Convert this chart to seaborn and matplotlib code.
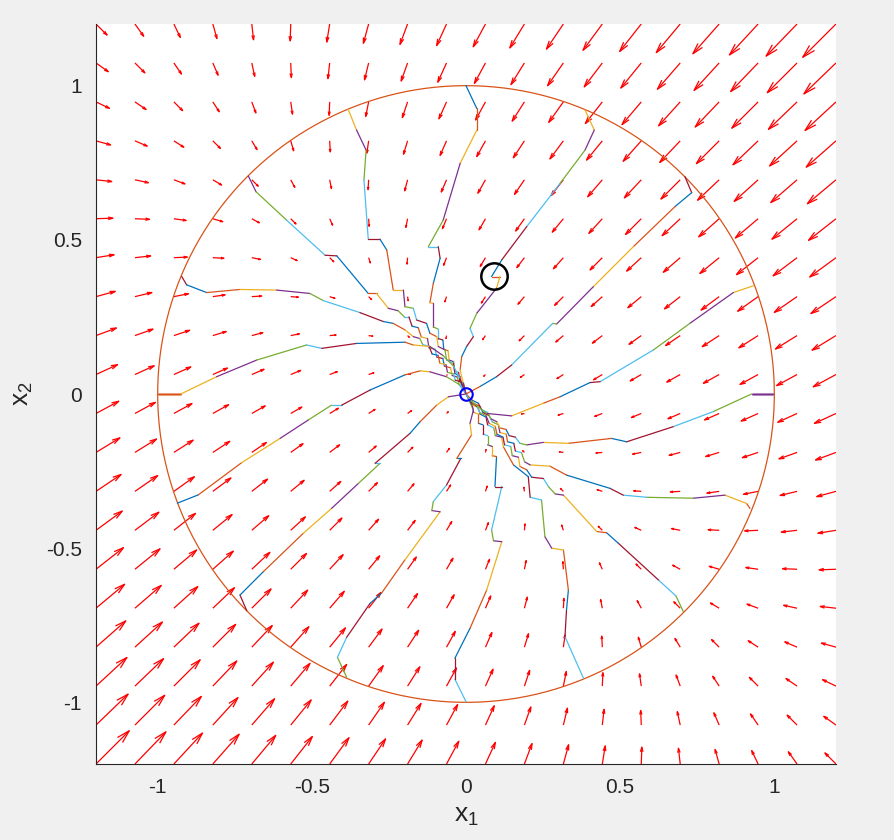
import numpy as np
import pandas as pd
import matplotlib
matplotlib.use('Agg')
import matplotlib.pyplot as plt
import seaborn as sns
from matplotlib.collections import LineCollection

sns.set_style('white')
plt.rcParams['font.family'] = ['Liberation Sans', 'DejaVu Sans']
plt.rcParams['mathtext.fontset'] = 'custom'
plt.rcParams['mathtext.rm'] = 'Liberation Sans'
plt.rcParams['mathtext.it'] = 'Liberation Sans'
plt.rcParams['mathtext.default'] = 'regular'
plt.rcParams['axes.unicode_minus'] = False

A_sys = [[-2.0, -1.0],
         [-1.0, -2.0]]
grid_n = 20
lim = 1.2
circle_r = 1.0

# trajectoires
T1 = [(0, 1.0), (0.035, 0.926), (0.035, 0.856), (-0.019, 0.748), (-0.074, 0.564), (-0.122, 0.478),
      (-0.09, 0.478), (-0.084, 0.44), (-0.106, 0.359), (-0.117, 0.296), (-0.106, 0.294), (-0.106, 0.218),
      (-0.09, 0.21), (-0.09, 0.18), (-0.075, 0.175), (-0.072, 0.145), (-0.058, 0.14), (-0.055, 0.11),
      (-0.04, 0.105), (-0.037, 0.075), (-0.024, 0.07), (-0.02, 0.04), (-0.008, 0.035), (0, 0)]
T2 = [(-0.382, 0.923), (-0.355, 0.856), (-0.324, 0.791), (-0.331, 0.694), (-0.317, 0.502), (-0.279, 0.502),
      (-0.257, 0.467), (-0.236, 0.337), (-0.203, 0.337), (-0.198, 0.283), (-0.171, 0.278), (-0.16, 0.24),
      (-0.128, 0.229), (-0.117, 0.197), (-0.095, 0.186), (-0.09, 0.154), (-0.068, 0.143), (-0.063, 0.11),
      (-0.041, 0.1), (-0.036, 0.067), (-0.019, 0.056), (-0.014, 0.029), (0, 0)]
T3 = [(-0.706, 0.707), (-0.681, 0.656), (-0.582, 0.564), (-0.457, 0.45), (-0.419, 0.448), (-0.317, 0.326),
      (-0.29, 0.326), (-0.252, 0.278), (-0.22, 0.27), (-0.2, 0.25), (-0.185, 0.25), (-0.175, 0.22),
      (-0.155, 0.215), (-0.145, 0.185), (-0.125, 0.18), (-0.12, 0.15), (-0.1, 0.145), (-0.095, 0.12),
      (-0.075, 0.115), (-0.07, 0.09), (-0.05, 0.085), (-0.045, 0.06), (-0.028, 0.055), (-0.022, 0.03), (0, 0)]
T4 = [(-0.922, 0.381), (-0.906, 0.354), (-0.841, 0.329), (-0.733, 0.339), (-0.614, 0.337), (-0.506, 0.326),
      (-0.463, 0.303), (-0.344, 0.264), (-0.268, 0.235), (-0.236, 0.229), (-0.198, 0.208), (-0.171, 0.186),
      (-0.15, 0.18), (-0.14, 0.16), (-0.12, 0.155), (-0.11, 0.13), (-0.09, 0.125), (-0.085, 0.1),
      (-0.065, 0.095), (-0.06, 0.07), (-0.04, 0.065), (-0.035, 0.045), (-0.018, 0.04), (0, 0)]
T5 = [(-0.998, 0.0), (-0.925, 0.0), (-0.809, 0.056), (-0.679, 0.11), (-0.517, 0.159), (-0.468, 0.148),
      (-0.355, 0.164), (-0.198, 0.168), (-0.171, 0.159), (-0.117, 0.154), (-0.075, 0.125), (-0.04, 0.09),
      (-0.02, 0.05), (0, 0)]
T6 = [(-0.936, -0.354), (-0.868, -0.327), (-0.728, -0.223), (-0.603, -0.144), (-0.511, -0.084),
      (-0.436, -0.036), (-0.403, -0.036), (-0.311, 0.013), (-0.198, 0.062), (-0.149, 0.075),
      (-0.117, 0.072), (-0.063, 0.056), (-0.019, 0.029), (0, 0)]
T7 = [(-0.711, -0.703), (-0.733, -0.652), (-0.657, -0.576), (-0.528, -0.452), (-0.436, -0.371),
      (-0.349, -0.29), (-0.279, -0.225), (-0.295, -0.225), (-0.182, -0.128), (-0.149, -0.09),
      (-0.095, -0.036), (-0.057, -0.009), (0, 0)]
T8 = [(-0.387, -0.919), (-0.417, -0.854), (-0.387, -0.789), (-0.311, -0.679), (-0.274, -0.646),
      (-0.198, -0.538), (-0.084, -0.382), (-0.111, -0.378), (-0.106, -0.349), (-0.063, -0.295),
      (-0.017, -0.209), (-0.03, -0.209), (0.018, -0.133), (0.013, -0.095), (0.024, -0.052), (0, 0)]
T9 = [(0, -0.998), (-0.036, -0.925), (-0.036, -0.857), (0.013, -0.76), (0.067, -0.636), (0.116, -0.479),
      (0.089, -0.476), (0.083, -0.441), (0.116, -0.3), (0.094, -0.3), (0.099, -0.203), (0.085, -0.2),
      (0.085, -0.17), (0.07, -0.165), (0.07, -0.135), (0.055, -0.13), (0.055, -0.1), (0.04, -0.095),
      (0.04, -0.065), (0.025, -0.06), (0.02, -0.035), (0, 0)]
T10 = [(0.381, -0.922), (0.321, -0.787), (0.326, -0.7), (0.332, -0.636), (0.316, -0.506), (0.278, -0.5),
       (0.256, -0.463), (0.245, -0.344), (0.208, -0.335), (0.202, -0.268), (0.154, -0.23), (0.121, -0.171),
       (0.115, -0.14), (0.095, -0.135), (0.09, -0.11), (0.07, -0.1), (0.065, -0.075), (0.045, -0.065),
       (0.04, -0.045), (0.02, -0.035), (0, 0)]
T11 = [(0.705, -0.706), (0.681, -0.655), (0.624, -0.603), (0.494, -0.484), (0.456, -0.45), (0.424, -0.446),
       (0.316, -0.328), (0.289, -0.324), (0.267, -0.3), (0.251, -0.274), (0.213, -0.27), (0.197, -0.246),
       (0.175, -0.235), (0.17, -0.205), (0.15, -0.2), (0.145, -0.17), (0.125, -0.165), (0.12, -0.14),
       (0.1, -0.13), (0.095, -0.105), (0.075, -0.095), (0.065, -0.07), (0.045, -0.06), (0.035, -0.04),
       (0.015, -0.025), (0, 0)]
T12 = [(0.921, -0.371), (0.91, -0.355), (0.84, -0.328), (0.737, -0.338), (0.586, -0.335), (0.51, -0.328),
       (0.467, -0.306), (0.326, -0.263), (0.272, -0.234), (0.208, -0.23), (0.19, -0.22), (0.18, -0.19),
       (0.16, -0.185), (0.155, -0.16), (0.135, -0.155), (0.13, -0.13), (0.11, -0.125), (0.105, -0.1),
       (0.085, -0.09), (0.075, -0.07), (0.055, -0.06), (0.045, -0.04), (0.025, -0.03), (0, 0)]
T13 = [(0.997, 0.0), (0.926, 0.0), (0.802, -0.057), (0.672, -0.106), (0.521, -0.155), (0.472, -0.144),
       (0.332, -0.16), (0.251, -0.157), (0.197, -0.165), (0.175, -0.16), (0.16, -0.14), (0.14, -0.135),
       (0.13, -0.115), (0.11, -0.11), (0.1, -0.09), (0.08, -0.08), (0.07, -0.06), (0.05, -0.05),
       (0.04, -0.03), (0.02, -0.02), (0, 0)]
T14 = [(0.932, 0.351), (0.867, 0.329), (0.726, 0.229), (0.608, 0.143), (0.435, 0.04), (0.402, 0.037),
       (0.305, -0.009), (0.251, -0.03), (0.148, -0.071), (0.067, -0.063), (0.013, -0.02), (0, 0)]
T15 = [(0.71, 0.705), (0.732, 0.653), (0.678, 0.608), (0.543, 0.478), (0.413, 0.348), (0.294, 0.227),
       (0.281, 0.229), (0.148, 0.094), (0.099, 0.056), (0.045, 0.024), (0, 0)]
T16 = [(0.386, 0.921), (0.416, 0.856), (0.386, 0.791), (0.305, 0.683), (0.197, 0.543), (0.116, 0.435),
       (0.083, 0.381), (0.11, 0.381), (0.099, 0.343), (0.035, 0.262), (0.013, 0.213), (0.024, 0.186),
       (0.002, 0.154), (-0.014, 0.121), (-0.019, 0.078), (-0.009, 0.035), (0, 0)]

trajectories = [T1, T2, T3, T4, T5, T6, T7, T8, T9, T10, T11, T12, T13, T14, T15, T16]
thick_start = [4, 12]   # T5 et T13 commencent par un trait plus epais

origin = (0.0, 0.0)
current_state = (0.091, 0.383)

matlab_colors = ['#0072BD', '#D95319', '#EDB120', '#7E2F8E', '#77AC30', '#4DBEEE', '#A2142F']

# figure
fig = plt.figure(figsize=(8.94, 8.40), dpi=100, facecolor='#f0f0f0')
ax = fig.add_axes([96 / 894, 76 / 840, 740 / 894, 740 / 840])
ax.set_facecolor('white')

# quiver facon MATLAB (autoscale 0.9, tete ouverte)
g = np.linspace(-lim, lim, grid_n)
X, Y = np.meshgrid(g, g)
A = np.array(A_sys)
U = A[0, 0] * X + A[0, 1] * Y
V = A[1, 0] * X + A[1, 1] * Y
dl = np.sqrt((2 * lim / grid_n) ** 2 * 2)
maxlen = np.max(np.sqrt(U ** 2 + V ** 2)) / dl
U = U * 0.9 / maxlen
V = V * 0.9 / maxlen
alpha, beta = 0.28, 0.27
segs = []
for x0, y0, u, v in zip(X.ravel(), Y.ravel(), U.ravel(), V.ravel()):
    tx, ty = x0 + u, y0 + v
    segs.append([(x0, y0), (tx, ty)])
    segs.append([(tx - alpha * (u + beta * v), ty - alpha * (v - beta * u)), (tx, ty),
                 (tx - alpha * (u - beta * v), ty - alpha * (v + beta * u))])
ax.add_collection(LineCollection(segs, colors='red', linewidths=0.9, zorder=1))

# cercle
th = np.linspace(0, 2 * np.pi, 400)
circ = pd.DataFrame({'x': circle_r * np.cos(th), 'y': circle_r * np.sin(th)})
sns.lineplot(data=circ, x='x', y='y', sort=False, estimator=None, color='#D95319',
             linewidth=0.9, ax=ax, zorder=2)

# trajectoires : chaque segment a sa propre couleur (ordre MATLAB)
rows = []
pal = {}
k = 0
for i, tr in enumerate(trajectories):
    for j in range(len(tr) - 1):
        sid = f's{k}'
        pal[sid] = matlab_colors[k % len(matlab_colors)]
        if j == 0 and i in thick_start:
            ax.plot([tr[0][0], tr[1][0]], [tr[0][1], tr[1][1]], color=pal[sid],
                    lw=2.2, alpha=0.5, zorder=3, solid_capstyle='butt')
        rows.append((sid, tr[j][0], tr[j][1]))
        rows.append((sid, tr[j + 1][0], tr[j + 1][1]))
        k += 1
df = pd.DataFrame(rows, columns=['seg', 'x', 'y'])
sns.lineplot(data=df, x='x', y='y', hue='seg', palette=pal, sort=False, estimator=None,
             legend=False, linewidth=0.9, ax=ax, zorder=3)

# marqueurs
ax.plot(*origin, 'o', mfc='none', mec='blue', ms=9, mew=1.5, zorder=5)
ax.plot(*current_state, 'o', mfc='none', mec='black', ms=19, mew=1.8, zorder=5)

ax.set_xlim(-lim, lim)
ax.set_ylim(-lim, lim)
ticks = [-1, -0.5, 0, 0.5, 1]
ax.set_xticks(ticks)
ax.set_yticks(ticks)
ax.set_xticklabels(['-1', '-0.5', '0', '0.5', '1'])
ax.set_yticklabels(['-1', '-0.5', '0', '0.5', '1'])
ax.tick_params(direction='in', length=7, width=0.8, colors='#262626', labelsize=15, pad=10)
for s in ['top', 'right']:
    ax.spines[s].set_visible(False)
for s in ['left', 'bottom']:
    ax.spines[s].set_color('#262626')
    ax.spines[s].set_linewidth(0.8)
ax.set_xlabel('x$_1$', fontsize=19, color='#262626', labelpad=5)
ax.set_ylabel('x$_2$', fontsize=19, color='#262626', labelpad=8)

fig.savefig('out.png', dpi=100, facecolor=fig.get_facecolor())
